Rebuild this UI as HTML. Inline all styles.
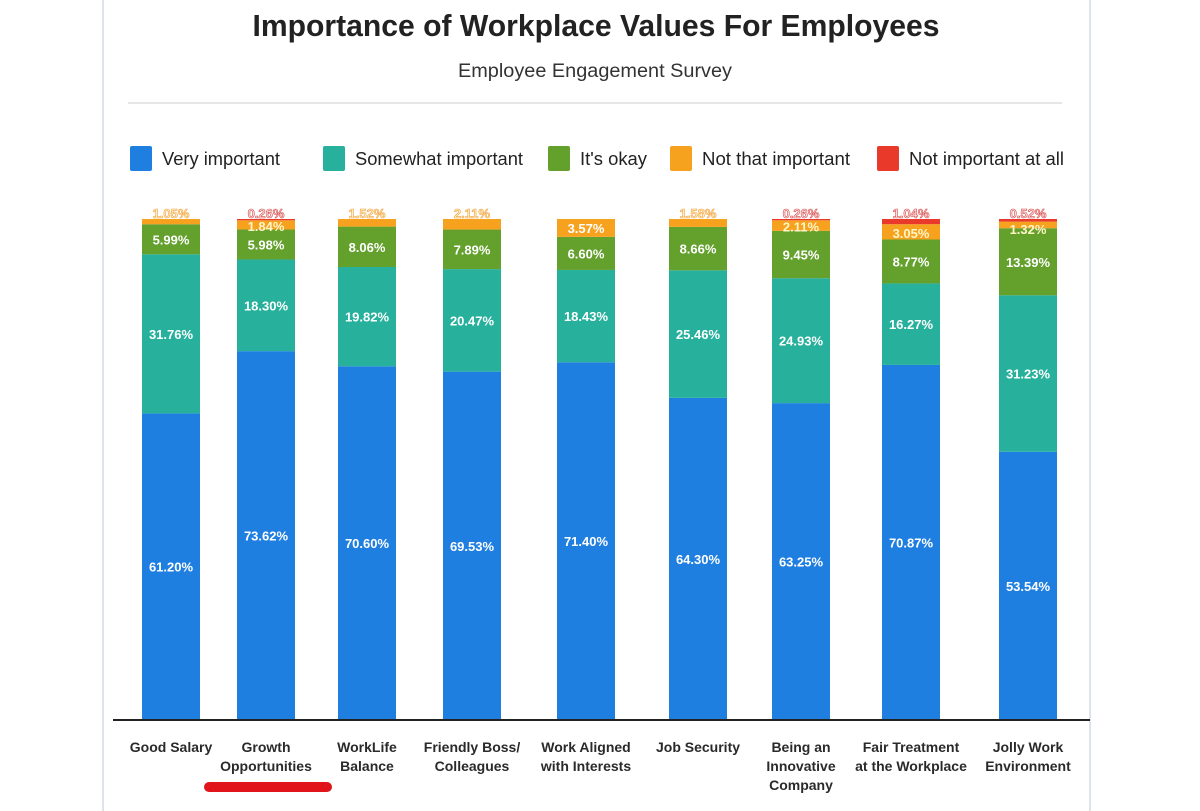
<!DOCTYPE html>
<html><head><meta charset="utf-8"><style>
body{margin:0;background:#fff;}
svg{display:block;font-family:"Liberation Sans Narrow","Liberation Sans",sans-serif;}
</style></head><body>
<svg id="chart" width="1200" height="811" viewBox="0 0 1200 811">
<line x1="103" y1="0" x2="103" y2="811" stroke="#dde3e8" stroke-width="2"/>
<line x1="1090" y1="0" x2="1090" y2="811" stroke="#dde3e8" stroke-width="2"/>
<text x="596" y="36" text-anchor="middle" font-size="31" font-weight="bold" fill="#222" textLength="687" lengthAdjust="spacingAndGlyphs">Importance of Workplace Values For Employees</text>
<text x="595" y="77" text-anchor="middle" font-size="19" fill="#333" textLength="274" lengthAdjust="spacingAndGlyphs">Employee Engagement Survey</text>
<line x1="128" y1="103" x2="1062" y2="103" stroke="#e6e6e6" stroke-width="2"/>
<g id="legend"></g>
<g id="bars"></g>
<line x1="113" y1="720" x2="1090" y2="720" stroke="#222" stroke-width="2"/>
<g id="xlabels"></g>
<line x1="209" y1="787" x2="327" y2="787" stroke="#e0141a" stroke-width="10" stroke-linecap="round"/>
</svg>
<script>
const categories=[["Good Salary"],["Growth","Opportunities"],["WorkLife","Balance"],["Friendly Boss/","Colleagues"],["Work Aligned","with Interests"],["Job Security"],["Being an","Innovative","Company"],["Fair Treatment","at the Workplace"],["Jolly Work","Environment"]];
const seriesNames=["Very important","Somewhat important","It's okay","Not that important","Not important at all"];
const veryImportant=[61.20,73.62,70.60,69.53,71.40,64.30,63.25,70.87,53.54];
const somewhatImportant=[31.76,18.30,19.82,20.47,18.43,25.46,24.93,16.27,31.23];
const itsOkay=[5.99,5.98,8.06,7.89,6.60,8.66,9.45,8.77,13.39];
const notThatImportant=[1.05,1.84,1.52,2.11,3.57,1.58,2.11,3.05,1.32];
const notImportantAtAll=[0,0.26,0,0,0,0,0.26,1.04,0.52];
const colors=["#1f7fe0","#27b09c","#63a02c","#f7a21e","#e8392b"];
const NS="http://www.w3.org/2000/svg";
function mk(t,a,p){const e=document.createElementNS(NS,t);for(const k in a)e.setAttribute(k,a[k]);p.appendChild(e);return e;}
const baseY=720, topY=219, plotH=baseY-topY;
const yScale=v=>v/100*plotH;
const barCenters=[171,266,367,472,586,698,801,911,1028];
const bw=58;
const series=[veryImportant,somewhatImportant,itsOkay,notThatImportant,notImportantAtAll];
const barsG=document.getElementById('bars');
categories.forEach((c,i)=>{
  let y=baseY;
  const g=mk('g',{},barsG);
  
  
  const red=notImportantAtAll[i];
  series.forEach((s,j)=>{
    const v=s[i]; if(v<=0) return;
    const h=yScale(v); y-=h;
    const r=mk('rect',{x:barCenters[i]-bw/2,y:y,width:bw,height:h,fill:colors[j]},g);
    
    
    let ly=y+h/2+5, fill="#fff", stroke="none";
    if(j===4){ly=y-1;fill="#fbe3e3";stroke="#d84a4a";}
    else if(j===3){
      if(red>0){ly=y+h/2+6+(h<8?3:0);fill="#fff6c8";}
      else if(v<3){ly=y-1;fill="#fff0c8";stroke="#f2a03c";}
      else {ly=y+h/2+5;}
    }
    const t=mk('text',{x:barCenters[i],y:ly,'text-anchor':'middle','font-size':13,'font-weight':'bold',fill:fill,stroke:stroke,'stroke-width':stroke==="none"?0:0.6},g);
    t.textContent=v.toFixed(2)+'%';
    
    
  });
  const xl=document.getElementById('xlabels');
  c.forEach((line,k)=>{
    const t=mk('text',{x:barCenters[i],y:752+k*19,'text-anchor':'middle','font-size':14,'font-weight':'bold',fill:'#2a2a2a'},xl);
    t.textContent=line;
    
    
  });
});
const legendX=[130,323,548,670,877];
const legendW=[118,168,67,148,155];
const lg=document.getElementById('legend');
seriesNames.forEach((n,i)=>{
  const r=mk('rect',{x:legendX[i],y:146,width:22,height:25,rx:2,fill:colors[i]},lg);
  
  
  const t=mk('text',{x:legendX[i]+32,y:165,'font-size':18,fill:'#222',textLength:legendW[i],lengthAdjust:'spacingAndGlyphs'},lg);
  t.textContent=n;
  
  
});
</script>
</body></html>
